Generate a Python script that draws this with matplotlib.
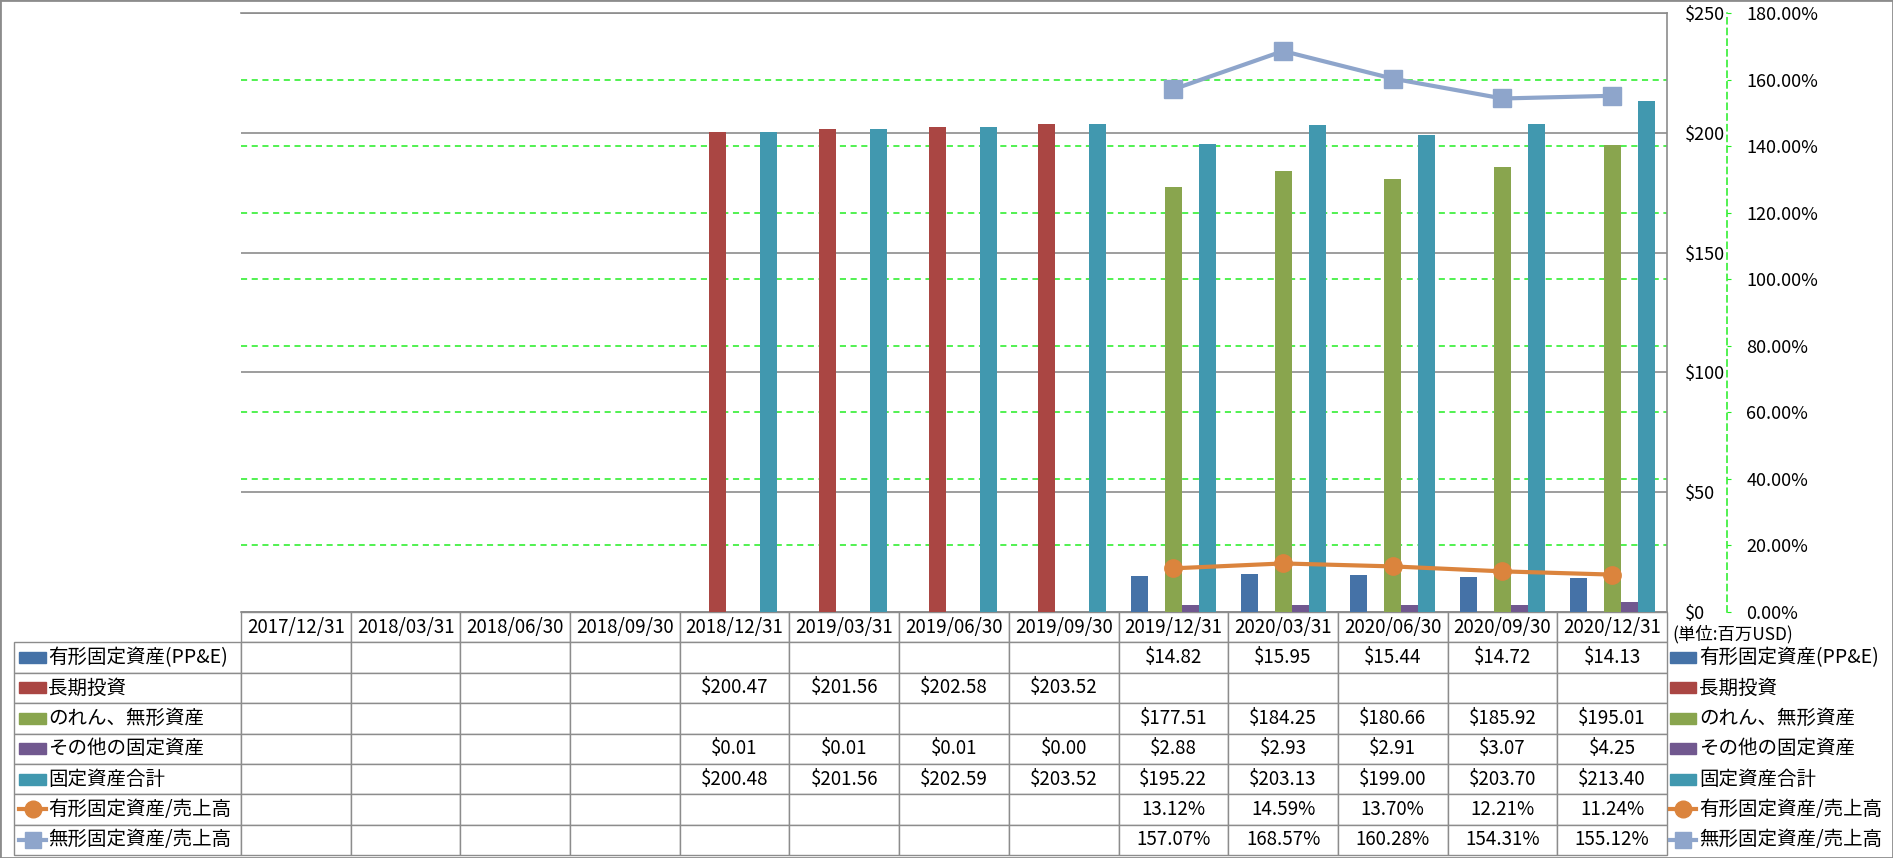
import numpy as np
import matplotlib
matplotlib.use("Agg")
import matplotlib.pyplot as plt
from matplotlib.patches import Rectangle
from matplotlib.table import Table
from matplotlib.ticker import FixedLocator, FuncFormatter

plt.rcParams['font.family'] = ['Noto Sans CJK JP', 'DejaVu Sans']

nan = np.nan

fechas = ["2017/12/31", "2018/03/31", "2018/06/30", "2018/09/30",
          "2018/12/31", "2019/03/31", "2019/06/30", "2019/09/30",
          "2019/12/31", "2020/03/31", "2020/06/30", "2020/09/30", "2020/12/31"]

ppe = [nan] * 8 + [14.82, 15.95, 15.44, 14.72, 14.13]
largo_plazo = [nan] * 4 + [200.47, 201.56, 202.58, 203.52] + [nan] * 5
intangibles = [nan] * 8 + [177.51, 184.25, 180.66, 185.92, 195.01]
otros = [nan] * 4 + [0.01, 0.01, 0.01, 0.00, 2.88, 2.93, 2.91, 3.07, 4.25]
total = [nan] * 4 + [200.48, 201.56, 202.59, 203.52, 195.22, 203.13, 199.00, 203.70, 213.40]
ratio_ppe = [nan] * 8 + [13.12, 14.59, 13.70, 12.21, 11.24]
ratio_intang = [nan] * 8 + [157.07, 168.57, 160.28, 154.31, 155.12]

nombres = ["有形固定資産(PP&E)", "長期投資", "のれん、無形資産", "その他の固定資産",
           "固定資産合計", "有形固定資産/売上高", "無形固定資産/売上高"]
colores = ["#4572A7", "#AA4643", "#89A54E", "#71588F", "#4198AF", "#DB843D", "#8EA5CB"]

ticks_usd = [0, 50, 100, 150, 200, 250]
ticks_pct = [0, 20, 40, 60, 80, 100, 120, 140, 160, 180]

GRIS = "#8c8c8c"
VERDE = "#22EE22"

W, H = 1893, 858
# area de trazado en pixeles
X0, X1, Y0, Y1 = 241, 1667, 13, 612


def fmt_usd(v):
    return "" if np.isnan(v) else f"${v:.2f}"


def fmt_pct(v):
    return "" if np.isnan(v) else f"{v:.2f}%"


def px(xp):
    # pixel horizontal -> coordenadas de ejes
    return (xp - X0) / (X1 - X0)


def dibujar_clave(ax, i, xa, xb, y):
    # clave de leyenda (barra o linea con marcador)
    if i < 5:
        hh = 11 / (Y1 - Y0)
        ax.add_patch(Rectangle((xa, y - hh / 2), xb - xa, hh, transform=ax.transAxes,
                               color=colores[i], clip_on=False))
    else:
        marcador = "o" if i == 5 else "s"
        ax.plot([xa, (xa + xb) / 2, xb], [y, y, y], transform=ax.transAxes,
                color=colores[i], lw=3, marker=marcador, markersize=12,
                markevery=[1], clip_on=False)


def graficar():
    fig = plt.figure(figsize=(W / 100, H / 100), dpi=100)
    ax = fig.add_axes([X0 / W, 1 - Y1 / H, (X1 - X0) / W, (Y1 - Y0) / H])
    n = len(fechas)
    x = np.arange(n)
    ancho = 17 / ((X1 - X0) / n)

    series = [ppe, largo_plazo, intangibles, otros, total]
    for k, serie in enumerate(series):
        ax.bar(x + (k - 2) * ancho, serie, ancho, color=colores[k], zorder=3)

    ax2 = ax.twinx()
    ax2.plot(x, ratio_ppe, color=colores[5], lw=3, marker="o", markersize=12.5, zorder=4)
    ax2.plot(x, ratio_intang, color=colores[6], lw=3, marker="s", markersize=12.5, zorder=4)

    ax.set_xlim(-0.5, n - 0.5)
    ax.set_ylim(0, 250)
    ax.set_xticks([])
    ax.set_yticks(ticks_usd)
    ax.yaxis.set_major_formatter(FuncFormatter(lambda v, p: f"${v:.0f}"))
    ax.yaxis.set_ticks_position('right')
    ax.tick_params(axis='y', which='major', length=0, pad=13, labelsize=13,
                   labelright=True, labelleft=False)
    ax.tick_params(axis='y', which='minor', length=0)
    ax.yaxis.set_minor_locator(FixedLocator([p * 250 / 180 for p in ticks_pct[1:-1]]))
    ax.grid(axis='y', which='major', color=GRIS, lw=1.2)
    ax.grid(axis='y', which='minor', color=VERDE, lw=1.1, ls=(0, (4, 3)))
    ax.set_axisbelow(True)
    ax.spines['left'].set_visible(False)
    for s in ['top', 'right', 'bottom']:
        ax.spines[s].set_color(GRIS)
        ax.spines[s].set_linewidth(1.2)

    ax2.set_ylim(0, 180)
    ax2.set_yticks(ticks_pct)
    ax2.yaxis.set_major_formatter(FuncFormatter(lambda v, p: f"{v:.2f}%"))
    ax2.spines['right'].set_position(('axes', px(1727)))
    ax2.spines['right'].set_color(VERDE)
    ax2.spines['right'].set_linestyle((0, (4, 3)))
    ax2.spines['right'].set_linewidth(1.1)
    for s in ['top', 'left', 'bottom']:
        ax2.spines[s].set_visible(False)
    ax2.tick_params(axis='y', length=3, color=VERDE, pad=11, labelsize=13)

    # tabla de datos (anchos ya en fraccion de ejes)
    filas = [ppe, largo_plazo, intangibles, otros, total]
    texto = [[fmt_usd(v) for v in f] for f in filas]
    texto += [[fmt_pct(v) for v in ratio_ppe], [fmt_pct(v) for v in ratio_intang]]
    yt = -(855 - Y1) / (Y1 - Y0)
    alto = -yt / (len(nombres) + 1)
    col_w = 1 / n
    etiqueta_w = px(X0) - px(14)
    tabla = Table(ax, bbox=[0, yt, 1, -yt])
    for c, f in enumerate(fechas):
        tabla.add_cell(0, c, width=col_w, height=alto, text=f, loc='center')
    for r, fila in enumerate(texto):
        tabla.add_cell(r + 1, -1, width=etiqueta_w, height=alto, text="", loc='left')
        for c, t in enumerate(fila):
            tabla.add_cell(r + 1, c, width=col_w, height=alto, text=t, loc='center')
    tabla.auto_set_font_size(False)
    tabla.set_fontsize(13.5)
    for celda in tabla.get_celld().values():
        celda.set_edgecolor(GRIS)
        celda.set_linewidth(1.0)
    ax.add_table(tabla)

    for i, nombre in enumerate(nombres):
        y = -(i + 1.5) * alto
        # leyenda izquierda dentro de la tabla
        dibujar_clave(ax, i, px(19), px(46), y)
        ax.text(px(48), y, nombre, transform=ax.transAxes,
                ha='left', va='center', fontsize=14)
        # leyenda derecha
        dibujar_clave(ax, i, px(1670), px(1696), y)
        ax.text(px(1699), y, nombre, transform=ax.transAxes,
                ha='left', va='center', fontsize=14)

    ax.text(px(1672), -(634 - Y1) / (Y1 - Y0), "(単位:百万USD)",
            transform=ax.transAxes, ha='left', va='center', fontsize=12.5)

    fig.patches.append(Rectangle((0, 0), 1, 1, transform=fig.transFigure, fill=False,
                                 edgecolor=GRIS, lw=2))
    fig.savefig("out.png", dpi=100)


def main():
    graficar()


if __name__ == "__main__":
    main()
